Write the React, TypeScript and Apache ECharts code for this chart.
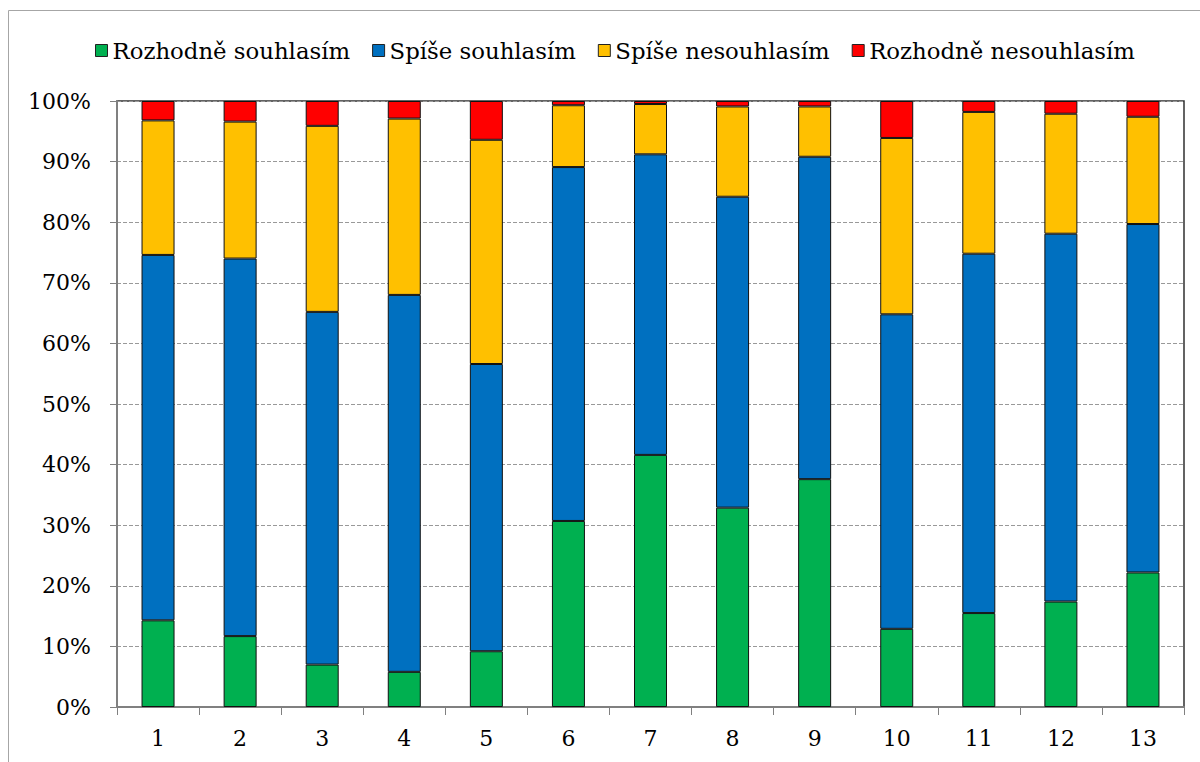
import React, { useEffect, useRef } from "react";
import * as echarts from "echarts";

const categories = ["1", "2", "3", "4", "5", "6", "7", "8", "9", "10", "11", "12", "13"];
const seriesNames = ["Rozhodně souhlasím", "Spíše souhlasím", "Spíše nesouhlasím", "Rozhodně nesouhlasím"];
const rozhodneSouhlasim = [14.3, 11.7, 7.0, 5.8, 9.2, 30.7, 41.6, 32.9, 37.6, 12.9, 15.5, 17.4, 22.2];
const spiseSouhlasim = [60.3, 62.3, 58.2, 62.2, 47.4, 58.4, 49.6, 51.3, 53.2, 51.9, 59.3, 60.7, 57.5];
const spiseNesouhlasim = [22.2, 22.6, 30.7, 29.1, 37.0, 10.2, 8.3, 14.9, 8.3, 29.1, 23.4, 19.8, 17.7];
const rozhodneNesouhlasim = [3.2, 3.4, 4.1, 2.9, 6.4, 0.7, 0.5, 0.9, 0.9, 6.1, 1.8, 2.1, 2.6];
const colors = ["#00B050", "#0070C0", "#FFC000", "#FF0000"];

const FONT = "DejaVu Serif";

export default function App() {
  const ref = useRef<HTMLDivElement>(null);
  useEffect(() => {
    document.body.style.margin = "0";
    if (!ref.current) return;
    const chart = echarts.init(ref.current, null, { renderer: "svg" });
    const data = [rozhodneSouhlasim, spiseSouhlasim, spiseNesouhlasim, rozhodneNesouhlasim];
    chart.setOption({
      animation: false,
      backgroundColor: "#ffffff",
      textStyle: { fontFamily: FONT },
      graphic: [
        {
          type: "rect",
          shape: { x: 8.5, y: 10.5, width: 1200, height: 760 },
          style: { fill: "none", stroke: "#a6a6a6", lineWidth: 1 },
          silent: true,
        },
      ],
      legend: {
        left: 90,
        top: 34,
        itemWidth: 12,
        itemHeight: 12,
        itemGap: 22,
        textStyle: { fontFamily: FONT, fontSize: 22.8, color: "#000" },
        data: seriesNames.map((n, i) => ({
          name: n,
          icon: "rect",
          itemStyle: { color: colors[i], borderColor: "#222", borderWidth: 1 },
        })),
      },
      grid: {
        left: 117,
        right: 16,
        top: 101,
        bottom: 55,
        show: true,
        borderColor: "#303030",
        borderWidth: 1.5,
        containLabel: false,
      },
      xAxis: {
        type: "category",
        data: categories,
        boundaryGap: true,
        axisLine: { show: true, lineStyle: { color: "#808080", width: 2 } },
        axisTick: { show: true, length: 8, lineStyle: { color: "#808080", width: 1 } },
        axisLabel: { fontFamily: FONT, fontSize: 22, color: "#000", margin: 20 },
        splitLine: { show: false },
      },
      yAxis: {
        type: "value",
        min: 0,
        max: 100,
        interval: 10,
        axisLine: { show: true, lineStyle: { color: "#808080", width: 2 } },
        axisTick: { show: true, length: 7, lineStyle: { color: "#808080", width: 1 } },
        axisLabel: {
          fontFamily: FONT,
          fontSize: 22,
          color: "#000",
          margin: 26,
          formatter: (v: number) => `${v}%`,
        },
        splitLine: { show: true, lineStyle: { color: "#999999", type: [4, 2], width: 1 } },
      },
      series: seriesNames.map((n, i) => ({
        name: n,
        type: "bar",
        stack: "total",
        barWidth: 33,
        data: data[i],
        itemStyle: { color: colors[i], borderColor: "#111", borderWidth: 1 },
      })),
    });
    return () => chart.dispose();
  }, []);
  return <div ref={ref} style={{ width: 1200, height: 762 }} />;
}
